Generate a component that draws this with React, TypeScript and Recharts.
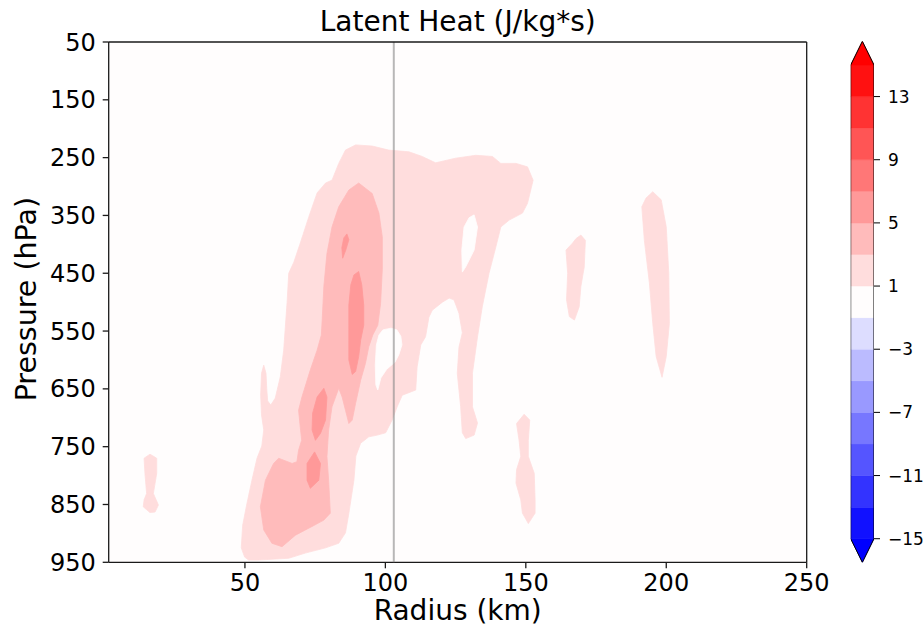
import React from 'react';
import {
  ComposedChart,
  Scatter,
  XAxis,
  YAxis,
  CartesianGrid,
  ReferenceLine,
} from 'recharts';

// ---------- axes ----------
const radiusTicks = [50, 100, 150, 200, 250];
const pressureTicks = [50, 150, 250, 350, 450, 550, 650, 750, 850, 950];
const radiusDomain = [1.5, 250];
const pressureDomain = [50, 950];
const eyewallRadius = 103;

// ---------- colour bar ----------
const colorbarTicks = [-15, -11, -7, -3, 1, 5, 9, 13];
const colorbarLevels = [-15, -13, -11, -9, -7, -5, -3, -1, 1, 3, 5, 7, 9, 11, 13, 15];
const colorbarColors = [
  '#1111ff', '#3333ff', '#5555ff', '#7777ff', '#9999ff', '#bbbbff', '#ddddff',
  '#fffdfd',
  '#ffdddd', '#ffbbbb', '#ff9999', '#ff7777', '#ff5555', '#ff3333', '#ff1111',
];
const extendLowColor = '#0000ff';
const extendHighColor = '#ff0000';
const extendSpan = 1.5;

const plotBg = '#fffdfd';
const level1Color = '#ffdddd';
const level3Color = '#ffbbbb';
const level5Color = '#ff9999';

// ---------- contour outlines [radius km, pressure hPa] ----------
const level1Main = [
  [49.9, 941], [48.7, 925], [49.2, 886], [50.6, 851], [52.5, 808], [54.3, 770], [56.0, 749],
  [56.7, 721], [55.9, 695], [55.6, 661], [55.9, 623], [56.7, 609], [57.5, 623], [57.8, 652],
  [58.1, 671], [59.2, 678], [60.8, 666], [62.6, 629], [63.8, 583], [65.0, 501], [65.6, 450],
  [67.4, 431], [69.7, 398], [72.7, 353], [75.7, 311], [78.7, 294], [81.0, 289], [83.4, 260],
  [85.8, 237], [89.4, 228], [95.3, 230], [101.2, 237], [108.4, 240], [113.1, 248], [117.9, 259],
  [125.0, 251], [132.2, 246], [138.1, 248], [141.1, 260], [146.5, 260], [150.6, 266], [152.6, 289],
  [150.6, 329], [148.8, 346], [144.1, 358], [141.1, 370], [139.3, 405], [136.9, 450], [134.5, 508],
  [132.8, 560], [131.0, 623], [131.0, 681], [132.8, 709], [131.6, 730], [128.6, 736], [127.4, 726],
  [126.8, 681], [125.6, 623], [126.2, 578], [127.4, 553], [126.2, 519], [124.4, 496], [122.7, 493],
  [120.3, 500], [116.7, 514], [115.5, 526], [114.3, 560], [112.6, 574], [111.3, 612], [110.8, 652],
  [106.0, 661], [104.2, 681], [102.4, 704], [100.1, 726], [97.1, 730], [94.1, 733], [91.2, 744],
  [89.5, 766], [88.8, 808], [87.0, 865], [85.8, 899], [83.4, 917], [78.7, 925], [71.5, 934],
  [65.6, 943], [54.9, 946], [51.3, 946],
];
const level1West = [
  [16.2, 763], [18.6, 770], [18.6, 796], [17.4, 831], [19.2, 851], [18.0, 863], [16.2, 864],
  [13.8, 854], [14.1, 842], [15.0, 831], [14.4, 796], [14.1, 770],
];
const level1Blob150 = [
  [149.4, 694], [151.4, 704], [150.9, 739], [150.9, 767], [153.0, 796], [153.3, 842], [153.3, 865],
  [150.9, 883], [148.8, 865], [148.2, 842], [146.5, 813], [146.7, 790], [148.2, 767], [147.6, 739],
  [146.7, 710],
];
const level1Blob170 = [
  [169.6, 384], [171.2, 393], [170.8, 439], [169.6, 473], [169.0, 508], [167.3, 531], [165.5, 525],
  [164.5, 496], [164.9, 450], [164.3, 410], [166.6, 398], [167.9, 390],
];
const level1Blob200 = [
  [195.2, 309], [198.2, 323], [200.0, 370], [200.9, 450], [201.1, 537], [200.0, 594], [198.5, 630],
  [196.4, 594], [195.2, 537], [194.0, 467], [192.2, 393], [191.3, 335], [192.8, 320],
];
const holeNearLine = [
  [97.7, 557], [99.1, 548], [102.0, 545], [104.1, 548], [105.5, 559], [105.9, 574], [104.8, 591],
  [103.4, 604], [100.5, 616], [98.4, 631], [97.3, 652], [96.6, 643], [96.4, 609], [96.8, 574],
];
const holeUpper = [
  [131.6, 349], [132.8, 370], [131.6, 410], [128.6, 439], [127.4, 448], [127.2, 410], [128.0, 370],
  [129.8, 354],
];
const level3Main = [
  [90.5, 294], [95.3, 312], [97.7, 346], [98.9, 387], [98.9, 444], [98.3, 502], [97.3, 540],
  [95.5, 557], [94.1, 577], [92.9, 606], [91.2, 635], [89.4, 675], [88.2, 704], [87.0, 710],
  [85.8, 687], [84.6, 664], [83.4, 649], [81.0, 681], [79.8, 721], [79.2, 767], [79.8, 808],
  [80.4, 865], [78.1, 877], [73.9, 888], [68.0, 903], [63.2, 923], [59.6, 917], [56.7, 894],
  [55.5, 854], [57.3, 808], [60.2, 779], [62.0, 770], [66.8, 779], [68.5, 776], [69.1, 756],
  [70.2, 739], [69.7, 716], [69.1, 687], [70.3, 664], [73.3, 617], [75.7, 583], [77.2, 557],
  [77.5, 531], [78.1, 473], [79.2, 416], [81.0, 370], [83.4, 335], [87.0, 306],
];
const level5Spot1 = [[86.3, 382], [87.0, 392], [85.9, 410], [84.8, 424], [84.5, 406], [85.2, 389]];
const level5Spot2 = [
  [90.5, 447], [91.6, 470], [92.3, 505], [92.3, 540], [91.2, 566], [90.5, 594], [89.4, 620],
  [88.2, 625], [87.0, 600], [87.0, 548], [87.0, 505], [87.7, 470], [88.8, 453],
];
const level5Spot3 = [
  [78.1, 649], [79.2, 664], [78.7, 704], [76.9, 727], [75.1, 739], [73.9, 721], [74.1, 692], [75.7, 664],
];
const level5Spot4 = [[74.8, 759], [76.9, 779], [76.3, 808], [73.3, 822], [72.1, 808], [72.1, 779]];

const contourLayers = [
  { name: 'l1-main', pts: level1Main, color: level1Color },
  { name: 'l1-west', pts: level1West, color: level1Color },
  { name: 'l1-150', pts: level1Blob150, color: level1Color },
  { name: 'l1-170', pts: level1Blob170, color: level1Color },
  { name: 'l1-200', pts: level1Blob200, color: level1Color },
  { name: 'hole-a', pts: holeNearLine, color: plotBg },
  { name: 'hole-b', pts: holeUpper, color: plotBg },
  { name: 'l3-main', pts: level3Main, color: level3Color },
  { name: 'l5-1', pts: level5Spot1, color: level5Color },
  { name: 'l5-2', pts: level5Spot2, color: level5Color },
  { name: 'l5-3', pts: level5Spot3, color: level5Color },
  { name: 'l5-4', pts: level5Spot4, color: level5Color },
];

const FONT = 'DejaVu Sans';
const AXIS = '#1a1a1a';

const toXY = (arr: number[][]) => arr.map(([x, y]) => ({ x, y }));
const Hidden = () => <g />;

const TitleLabel = (props: any) => {
  const vb = props.viewBox || { x: 108.7, y: 42, width: 698, height: 0 };
  return (
    <text x={vb.x + vb.width / 2} y={vb.y - 11.5} textAnchor="middle" fontFamily={FONT} fontSize={28} fill="#000">
      Latent Heat (J/kg*s)
    </text>
  );
};
const XLabel = (props: any) => {
  const vb = props.viewBox || { x: 108.7, y: 562.3, width: 698, height: 65.7 };
  return (
    <text x={vb.x + vb.width / 2} y={vb.y + 58} textAnchor="middle" fontFamily={FONT} fontSize={28} fill="#000">
      Radius (km)
    </text>
  );
};
const YLabel = (props: any) => {
  const vb = props.viewBox || { x: 0, y: 42, width: 108.7, height: 520.3 };
  const px = vb.x + 36;
  const py = vb.y + vb.height / 2 - 3;
  return (
    <text x={px} y={py} transform={`rotate(-90, ${px}, ${py})`} textAnchor="middle" fontFamily={FONT} fontSize={28.5} fill="#000">
      Pressure (hPa)
    </text>
  );
};

const fmtBar = (v: number) => (v < 0 ? `\u2212${Math.abs(v)}` : `${v}`);

export default function App() {
  const top = colorbarLevels[colorbarLevels.length - 1];
  const bottom = colorbarLevels[0];
  const barLayers = [
    ...colorbarColors.map((c, i) => ({
      name: `band${i}`,
      color: c,
      pts: [[0, colorbarLevels[i]], [1, colorbarLevels[i]], [1, colorbarLevels[i + 1]], [0, colorbarLevels[i + 1]]],
    })),
    { name: 'ext-hi', color: extendHighColor, pts: [[0, top], [0.5, top + extendSpan], [1, top]] },
    { name: 'ext-lo', color: extendLowColor, pts: [[0, bottom], [0.5, bottom - extendSpan], [1, bottom]] },
  ];
  const outline = [
    [0, bottom], [0, top], [0.5, top + extendSpan], [1, top], [1, bottom], [0.5, bottom - extendSpan],
  ];
  return (
    <div style={{ position: 'absolute', left: 0, top: 0, width: 924, height: 628, background: '#fff', overflow: 'hidden' }}>
      <div style={{ position: 'absolute', left: 0, top: 0 }}>
        <ComposedChart width={924} height={628} margin={{ top: 42, right: 117.3, bottom: 0, left: 0 }}>
          <CartesianGrid horizontal={false} vertical={false} fill={plotBg} stroke="none" />
          <XAxis
            dataKey="x"
            type="number"
            domain={radiusDomain}
            ticks={radiusTicks}
            allowDataOverflow
            height={65.7}
            interval={0}
            tick={{ fontSize: 24, fill: '#000', fontFamily: FONT }}
            tickLine={{ stroke: AXIS, strokeWidth: 1.3 }}
            axisLine={{ stroke: AXIS, strokeWidth: 1.3 }}
            tickSize={6}
            tickMargin={6}
            label={{ content: XLabel }}
          />
          <YAxis
            dataKey="y"
            type="number"
            domain={pressureDomain}
            reversed
            ticks={pressureTicks}
            allowDataOverflow
            width={108.7}
            interval={0}
            tick={{ fontSize: 24, fill: '#000', fontFamily: FONT }}
            tickLine={{ stroke: AXIS, strokeWidth: 1.3 }}
            axisLine={{ stroke: AXIS, strokeWidth: 1.3 }}
            tickSize={6}
            tickMargin={7}
            label={{ content: YLabel }}
          />
          {contourLayers.map((layer) => (
            <Scatter
              key={layer.name}
              name={layer.name}
              data={toXY(layer.pts)}
              fill={layer.color}
              line={{ fill: layer.color, stroke: layer.color, strokeWidth: 0.8 }}
              lineJointType="linearClosed"
              shape={Hidden}
              legendType="none"
              isAnimationActive={false}
            />
          ))}
          <ReferenceLine
            x={eyewallRadius}
            stroke="#888"
            strokeOpacity={0.6}
            strokeWidth={2}
            zIndex={700}
          />
          <ReferenceLine
            y={pressureDomain[0]}
            stroke={AXIS}
            strokeWidth={1.3}
            zIndex={700}
            label={{ content: TitleLabel }}
          />
          <ReferenceLine x={radiusDomain[1]} stroke={AXIS} strokeWidth={1.3} zIndex={700} />
        </ComposedChart>
      </div>
      <div style={{ position: 'absolute', left: 0, top: 0 }}>
        <ComposedChart width={924} height={628} margin={{ top: 41.3, right: 0, bottom: 65.6, left: 850.7 }}>
          <XAxis type="number" dataKey="x" domain={[0, 1]} hide allowDataOverflow />
          <YAxis
            type="number"
            dataKey="y"
            orientation="right"
            domain={[bottom - extendSpan, top + extendSpan]}
            ticks={colorbarTicks}
            interval={0}
            width={50}
            axisLine={false}
            tickLine={{ stroke: '#000', strokeWidth: 1 }}
            tickSize={6}
            tickMargin={8}
            tick={{ fontSize: 17, fill: '#000', fontFamily: FONT }}
            tickFormatter={fmtBar}
            allowDataOverflow
          />
          {barLayers.map((layer) => (
            <Scatter
              key={layer.name}
              name={layer.name}
              data={toXY(layer.pts)}
              fill={layer.color}
              line={{ fill: layer.color, stroke: layer.color, strokeWidth: 0.5 }}
              lineJointType="linearClosed"
              shape={Hidden}
              legendType="none"
              isAnimationActive={false}
            />
          ))}
          <Scatter
            name="outline"
            data={toXY(outline)}
            fill="none"
            line={{ fill: 'none', stroke: '#000', strokeWidth: 1 }}
            lineJointType="linearClosed"
            shape={Hidden}
            legendType="none"
            isAnimationActive={false}
          />
        </ComposedChart>
      </div>
    </div>
  );
}
